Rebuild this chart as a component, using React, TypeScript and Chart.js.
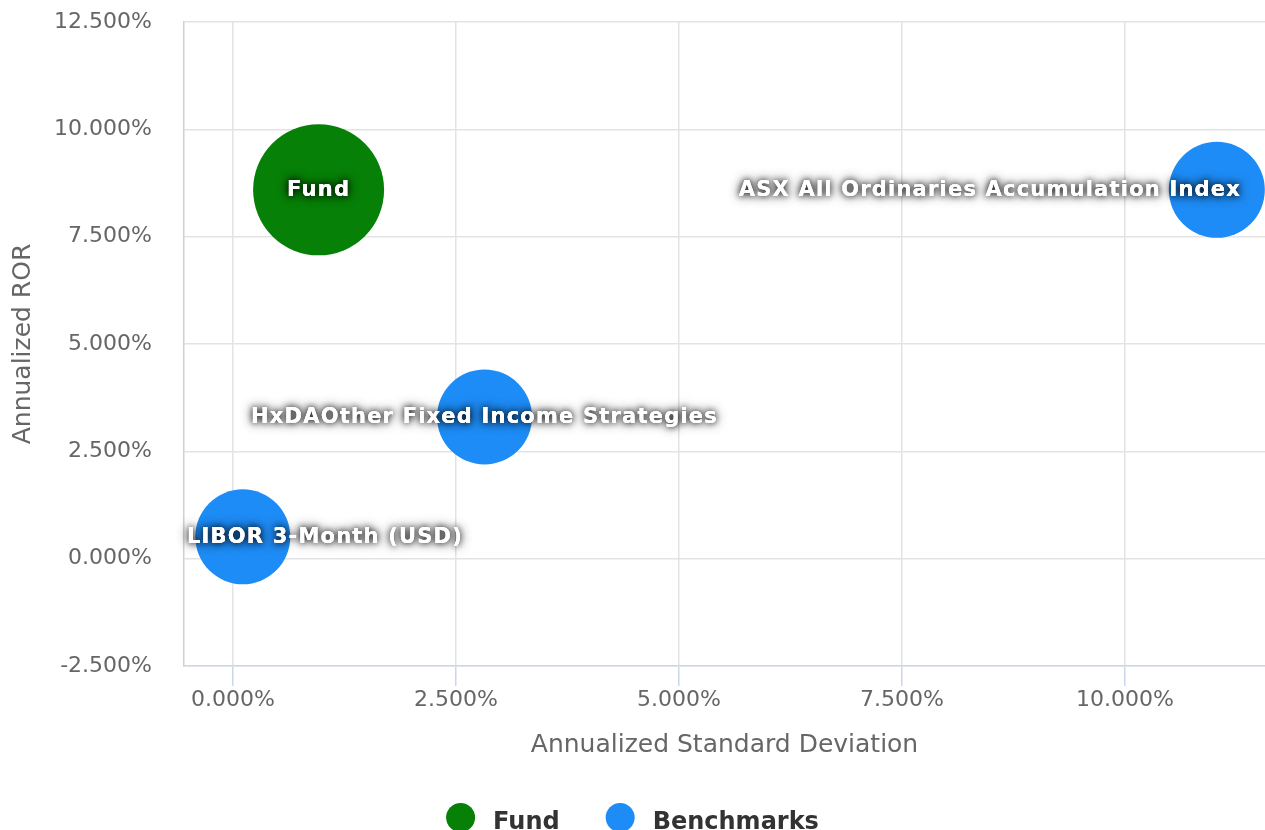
import React, { useEffect, useRef } from 'react';
import { Chart, registerables } from 'chart.js';

Chart.register(...registerables);

// ---- data ----
const seriesNames = ['Fund', 'Benchmarks'];
const seriesColors = ['#078007', '#1e8cf6'];

const fundPointNames = ['Fund'];
const fundStdDev = [0.96];
const fundRor = [8.59];
const fundBubbleSize = [65.5];

const benchmarkPointNames = [
  'ASX All Ordinaries Accumulation Index',
  'HxDAOther Fixed Income Strategies',
  'LIBOR 3-Month (USD)',
];
const benchmarkStdDev = [11.03, 2.82, 0.11];
const benchmarkRor = [8.59, 3.3, 0.51];
const benchmarkBubbleSize = [48, 47.5, 47.5];

const xTickValues = [0, 2.5, 5, 7.5, 10];
const yTickValues = [-2.5, 0, 2.5, 5, 7.5, 10, 12.5];
const xAxisTitle = 'Annualized Standard Deviation';
const yAxisTitle = 'Annualized ROR';

const FONT = '"DejaVu Sans", sans-serif';

const fmtPct = (v: number) => `${v.toFixed(3)}%`;

const bubbleLabelPlugin = {
  id: 'bubbleLabels',
  afterDatasetsDraw(chart: any) {
    const { ctx, chartArea } = chart;
    ctx.save();
    ctx.font = `bold 21px ${FONT}`;
    try { (ctx as any).letterSpacing = '1.2px'; } catch (e) {}
    ctx.textAlign = 'left';
    ctx.textBaseline = 'middle';
    chart.data.datasets.forEach((ds: any, di: number) => {
      const meta = chart.getDatasetMeta(di);
      meta.data.forEach((el: any, i: number) => {
        const text = ds.pointNames[i];
        const w = ctx.measureText(text).width;
        let x = el.x - w / 2;
        x = Math.max(chartArea.left + 3, Math.min(x, chartArea.right - 24 - w));
        const y = el.y + 1;
        ctx.shadowColor = 'rgba(0,0,0,0.85)';
        ctx.shadowBlur = 12;
        ctx.fillStyle = '#ffffff';
        ctx.fillText(text, x, y);
        ctx.shadowBlur = 6;
        ctx.fillText(text, x, y);
        ctx.shadowBlur = 0;
        ctx.shadowColor = 'transparent';
        ctx.fillText(text, x, y);
      });
    });
    ctx.restore();
  },
};

const customLegendPlugin = {
  id: 'customLegend',
  afterDraw(chart: any) {
    const { ctx } = chart;
    const r = 14.5;
    const gap = 18;
    const spacing = 46;
    const cy = 817.5;
    ctx.save();
    ctx.font = `bold 24px ${FONT}`;
    const items = chart.data.datasets.map((ds: any) => ({
      label: ds.label,
      color: ds.backgroundColor,
      w: ctx.measureText(ds.label).width,
    }));
    const total =
      items.reduce((s: number, it: any) => s + 2 * r + gap + it.w, 0) + spacing * (items.length - 1);
    let x = chart.width / 2 - total / 2;
    items.forEach((it: any) => {
      ctx.beginPath();
      ctx.fillStyle = it.color;
      ctx.arc(x + r, cy, r, 0, Math.PI * 2);
      ctx.fill();
      ctx.fillStyle = '#333333';
      ctx.textAlign = 'left';
      ctx.textBaseline = 'alphabetic';
      ctx.fillText(it.label, x + 2 * r + gap, 829);
      x += 2 * r + gap + it.w + spacing;
    });
    ctx.restore();
  },
};

export default function App() {
  const canvasRef = useRef<HTMLCanvasElement | null>(null);

  useEffect(() => {
    if (!canvasRef.current) return;
    const chart = new Chart(canvasRef.current, {
      type: 'bubble',
      data: {
        datasets: [
          {
            label: seriesNames[0],
            pointNames: fundPointNames,
            data: fundStdDev.map((x, i) => ({ x, y: fundRor[i], r: fundBubbleSize[i] })),
            backgroundColor: seriesColors[0],
            borderWidth: 0,
            clip: false,
          } as any,
          {
            label: seriesNames[1],
            pointNames: benchmarkPointNames,
            data: benchmarkStdDev.map((x, i) => ({ x, y: benchmarkRor[i], r: benchmarkBubbleSize[i] })),
            backgroundColor: seriesColors[1],
            borderWidth: 0,
            clip: false,
          } as any,
        ],
      },
      options: {
        responsive: false,
        animation: false,
        devicePixelRatio: 1,
        layout: { autoPadding: false, padding: { top: 22, left: 0, right: 0, bottom: 0 } },
        plugins: {
          legend: { display: false },
          tooltip: { enabled: false },
        },
        scales: {
          x: {
            type: 'linear',
            min: -0.549,
            max: 11.57,
            afterBuildTicks: (scale: any) => {
              scale.ticks = xTickValues.map((v) => ({ value: v }));
            },
            afterFit: (scale: any) => {
              scale.height = 164;
              scale.paddingLeft = 0;
              scale.paddingRight = 0;
            },
            ticks: {
              callback: (v: any) => fmtPct(Number(v)),
              font: { family: FONT, size: 22 },
              color: '#666666',
              padding: 1,
              maxRotation: 0,
            },
            grid: {
              color: '#e3e3e3',
              lineWidth: 1.5,
              tickLength: 20,
              tickColor: '#ccd6eb',
              tickWidth: 1.5,
            },
            border: { color: '#ccd6eb', width: 1.5 },
            title: {
              display: true,
              text: xAxisTitle,
              font: { family: FONT, size: 25 },
              color: '#666666',
              padding: { top: 0, bottom: 70 },
            },
          },
          y: {
            type: 'linear',
            min: -2.5,
            max: 12.5,
            afterBuildTicks: (scale: any) => {
              scale.ticks = yTickValues.map((v) => ({ value: v }));
            },
            afterFit: (scale: any) => {
              scale.width = 184;
              scale.paddingTop = 0;
              scale.paddingBottom = 0;
            },
            ticks: {
              callback: (v: any) => fmtPct(Number(v)),
              font: { family: FONT, size: 22 },
              color: '#666666',
              padding: 32,
            },
            grid: {
              color: '#e3e3e3',
              lineWidth: 1.5,
              drawTicks: false,
            },
            border: { color: '#d0d0d0', width: 1.5 },
            title: {
              display: true,
              text: yAxisTitle,
              font: { family: FONT, size: 25 },
              color: '#666666',
              padding: { top: 8, bottom: 0 },
            },
          },
        },
      } as any,
      plugins: [bubbleLabelPlugin, customLegendPlugin],
    });
    return () => chart.destroy();
  }, []);

  return (
    <div style={{ position: 'absolute', left: 0, top: 0, width: 1265, height: 830, background: '#fff' }}>
      <canvas ref={canvasRef} width={1265} height={830} style={{ display: 'block', width: 1265, height: 830 }} />
    </div>
  );
}
